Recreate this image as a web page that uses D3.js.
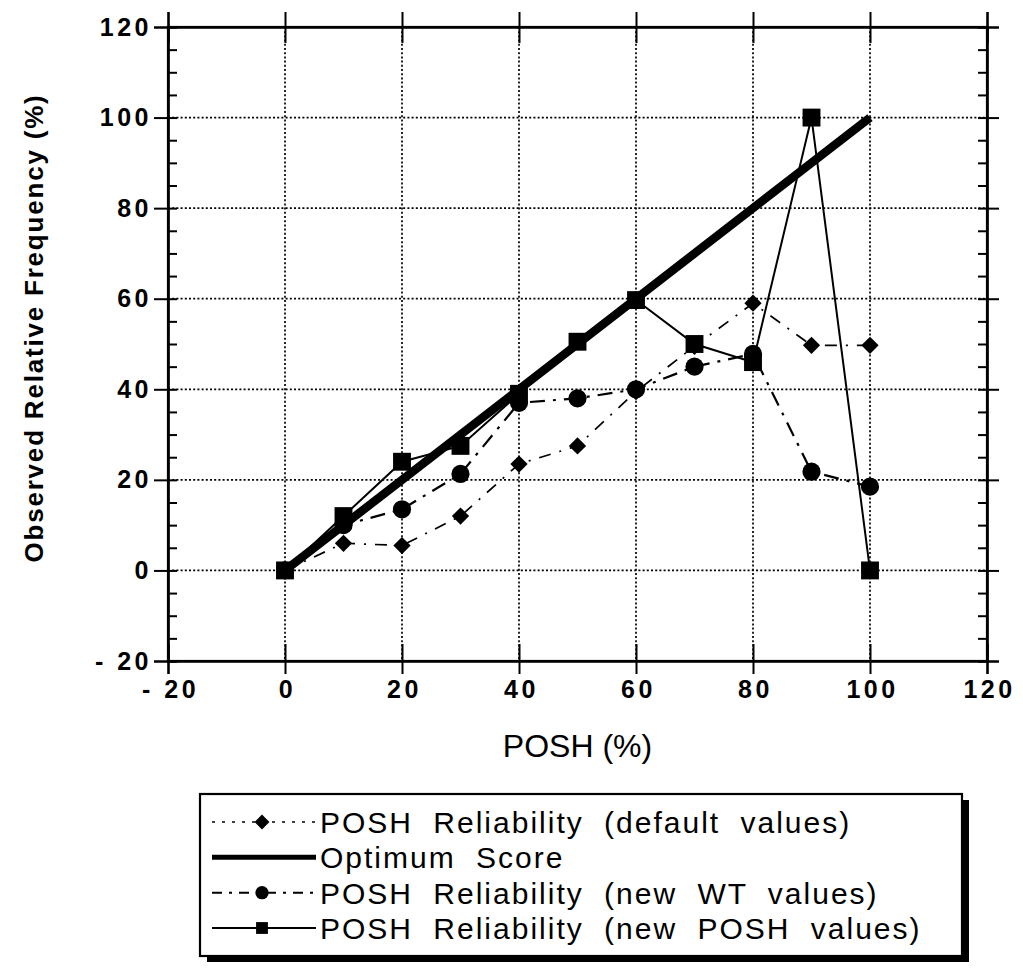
<!DOCTYPE html>
<html>
<head>
<meta charset="utf-8">
<script src="https://cdn.jsdelivr.net/npm/d3@7"></script>
<style>
  html, body { margin: 0; padding: 0; background: #fff; }
  svg { display: block; }
</style>
</head>
<body>
<svg id="chart" width="1023" height="974"></svg>
<script>
// ---- data ----
const poshX = [0, 10, 20, 30, 40, 50, 60, 70, 80, 90, 100];
const defaultValues = [0, 6, 5.5, 12, 23.5, 27.5, 39.5, 49.5, 59, 49.7, 49.7];
const optimumX = [0, 100];
const optimumValues = [0, 100];
const newWTValues = [0, 10, 13.5, 21.3, 37, 38, 40, 45, 47.8, 21.8, 18.5];
const newPOSHValues = [0, 12, 24, 27.5, 39, 50.5, 59.7, 50, 46, 100, 0];
const xTicks = [-20, 0, 20, 40, 60, 80, 100, 120];
const yTicks = [-20, 0, 20, 40, 60, 80, 100, 120];
const yMinorTicks = d3.range(-20, 121, 5);
const legendLabels = [
  "POSH Reliability (default values)",
  "Optimum Score",
  "POSH Reliability (new WT values)",
  "POSH Reliability (new POSH values)"
];
const xTitle = "POSH (%)";
const yTitle = "Observed Relative Frequency (%)";

// ---- layout ----
const svg = d3.select("#chart");
const L = 168, R = 987, T = 27, B = 661;
const x = d3.scaleLinear().domain([-20, 120]).range([L, R]);
const y = d3.scaleLinear().domain([-20, 120]).range([B, T]);

const font = "'Liberation Sans', Arial, Helvetica, sans-serif";

// grid (dotted)
const grid = svg.append("g");
grid.selectAll("line.gx").data(xTicks.slice(1, -1)).join("line")
  .attr("x1", d => x(d)).attr("x2", d => x(d)).attr("y1", T).attr("y2", B)
  .attr("stroke", "#000").attr("stroke-width", 1.7).attr("stroke-dasharray", "2,2.2");
grid.selectAll("line.gy").data(yTicks.slice(1, -1)).join("line")
  .attr("y1", d => y(d)).attr("y2", d => y(d)).attr("x1", L).attr("x2", R)
  .attr("stroke", "#000").attr("stroke-width", 1.7).attr("stroke-dasharray", "2,2.2");

// axes via d3
const fmt = d => d < 0 ? "- " + Math.abs(d) : String(d);
svg.append("g").attr("transform", `translate(${L},0)`)
  .call(d3.axisRight(y).tickValues(yMinorTicks).tickSize(9).tickFormat(""));
svg.append("g").attr("transform", `translate(${R},0)`)
  .call(d3.axisLeft(y).tickValues(yMinorTicks).tickSize(9).tickFormat(""));

const gL = svg.append("g").attr("transform", `translate(${L},0)`)
  .call(d3.axisLeft(y).tickValues(yTicks).tickSize(14).tickPadding(2).tickFormat(fmt));
svg.append("g").attr("transform", `translate(${R},0)`)
  .call(d3.axisRight(y).tickValues(yTicks).tickSize(12).tickFormat(""));

const gB = svg.append("g").attr("transform", `translate(0,${B})`)
  .call(d3.axisBottom(x).tickValues(xTicks).tickSize(13).tickPadding(6).tickFormat(fmt));
svg.append("g").attr("transform", `translate(0,${B})`)
  .call(d3.axisTop(x).tickValues(xTicks).tickSize(17).tickFormat(""));
svg.append("g").attr("transform", `translate(0,${T})`)
  .call(d3.axisTop(x).tickValues(xTicks).tickSize(15).tickFormat(""));
svg.append("g").attr("transform", `translate(0,${T})`)
  .call(d3.axisBottom(x).tickValues(xTicks).tickSize(16).tickFormat(""));

svg.selectAll(".domain").attr("stroke", "#000").attr("stroke-width", 2.2);
svg.selectAll(".tick line").attr("stroke", "#000").attr("stroke-width", 2);
[gL, gB].forEach(g => g.selectAll(".tick text")
  .attr("font-family", font).attr("font-weight", "bold").attr("font-size", 25)
  .attr("letter-spacing", "3.5px").attr("fill", "#000"));
gB.selectAll(".tick text").attr("dx", "2");

svg.append("rect").attr("x", L).attr("y", T).attr("width", R - L).attr("height", B - T)
  .attr("fill", "none").attr("stroke", "#000").attr("stroke-width", 2.2);

// ---- series ----
const line = d3.line().x(d => x(d[0])).y(d => y(d[1]));
const plot = svg.append("g");

const defPts = poshX.map((d, i) => [d, defaultValues[i]]);
const wtPts = poshX.map((d, i) => [d, newWTValues[i]]);
const newPts = poshX.map((d, i) => [d, newPOSHValues[i]]);
const optPts = optimumX.map((d, i) => [d, optimumValues[i]]);

plot.append("path").datum(defPts).attr("d", line).attr("fill", "none")
  .attr("stroke", "#000").attr("stroke-width", 1.7).attr("stroke-dasharray", "12,9,2,9");
plot.append("path").datum(wtPts).attr("d", line).attr("fill", "none")
  .attr("stroke", "#000").attr("stroke-width", 2.2).attr("stroke-dasharray", "15,8,3,8");
plot.append("path").datum(optPts).attr("d", line).attr("fill", "none")
  .attr("stroke", "#000").attr("stroke-width", 8.5);
plot.append("path").datum(newPts).attr("d", line).attr("fill", "none")
  .attr("stroke", "#000").attr("stroke-width", 2);

const diamond = d3.symbol().type(d3.symbolDiamond2).size(190);
const circle = d3.symbol().type(d3.symbolCircle).size(260);
const square = d3.symbol().type(d3.symbolSquare).size(320);

plot.selectAll("path.dm").data(defPts).join("path").attr("class", "dm")
  .attr("transform", d => `translate(${x(d[0])},${y(d[1])})`).attr("d", diamond).attr("fill", "#000");
plot.selectAll("path.ci").data(wtPts).join("path").attr("class", "ci")
  .attr("transform", d => `translate(${x(d[0])},${y(d[1])})`).attr("d", circle).attr("fill", "#000");
plot.selectAll("path.sq").data(newPts).join("path").attr("class", "sq")
  .attr("transform", d => `translate(${x(d[0])},${y(d[1])})`).attr("d", square).attr("fill", "#000");

// ---- titles ----
svg.append("text").attr("x", (L + R) / 2).attr("y", 757).attr("text-anchor", "middle")
  .attr("font-family", font).attr("font-size", 32).attr("fill", "#000").text(xTitle);
svg.append("text").attr("transform", `translate(43,328) rotate(-90)`).attr("text-anchor", "middle")
  .attr("font-family", font).attr("font-weight", "bold").attr("font-size", 26)
  .attr("letter-spacing", "1.8px").attr("fill", "#000").text(yTitle);

// ---- legend ----
const lg = svg.append("g");
const lx = 200, ly = 794, lw = 762, lh = 162;
lg.append("rect").attr("x", lx + 7).attr("y", ly + 6).attr("width", lw).attr("height", lh).attr("fill", "#000");
lg.append("rect").attr("x", lx).attr("y", ly).attr("width", lw).attr("height", lh)
  .attr("fill", "#fff").attr("stroke", "#000").attr("stroke-width", 2.2);

const rowY = d3.scalePoint().domain(legendLabels).range([822, 928]);
const styles = [
  {dash: "3,7", w: 1.6, type: d3.symbolDiamond2},
  {dash: null, w: 5, type: null},
  {dash: "10,7,3,7", w: 2, type: d3.symbolCircle},
  {dash: null, w: 2, type: d3.symbolSquare}
];
legendLabels.forEach((lab, i) => {
  const yy = rowY(lab);
  const s = styles[i];
  lg.append("line").attr("x1", 212).attr("x2", 316).attr("y1", yy).attr("y2", yy)
    .attr("stroke", "#000").attr("stroke-width", s.w).attr("stroke-dasharray", s.dash);
  if (s.type) {
    lg.append("path").attr("transform", `translate(262,${yy})`)
      .attr("d", d3.symbol().type(s.type).size(140)).attr("fill", "#000");
  }
  lg.append("text").attr("x", 320).attr("y", yy + 11).attr("font-family", font)
    .attr("font-size", 30).attr("letter-spacing", "2px").attr("word-spacing", "10px")
    .attr("fill", "#000").text(lab);
});
</script>
</body>
</html>
